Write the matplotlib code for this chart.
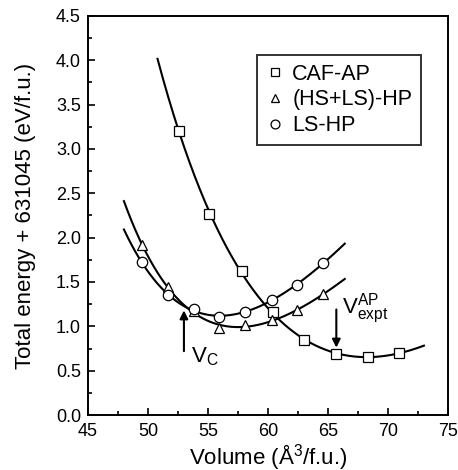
import numpy as np
import matplotlib.pyplot as plt
from matplotlib.ticker import MultipleLocator

plt.rcParams['font.family'] = ['Liberation Sans', 'DejaVu Sans']

# CAF-AP (squares)
caf_v = [52.6, 55.1, 57.8, 60.4, 63.0, 65.7, 68.3, 70.9]
caf_e = [3.20, 2.27, 1.62, 1.16, 0.85, 0.69, 0.65, 0.70]
caf_range = (50.8, 73.0)

# (HS+LS)-HP (triangles)
hsls_v = [49.5, 51.7, 53.8, 55.9, 58.1, 60.3, 62.4, 64.6]
hsls_e = [1.92, 1.44, 1.17, 0.98, 1.01, 1.07, 1.18, 1.36]
hsls_range = (48.0, 66.4)

# LS-HP (circles)
ls_v = [49.5, 51.7, 53.8, 55.9, 58.1, 60.3, 62.4, 64.6]
ls_e = [1.72, 1.35, 1.19, 1.11, 1.16, 1.30, 1.47, 1.71]
ls_range = (48.0, 66.4)


def bm_fit(v, e, vrange):
    """Birch-Murnaghan style fit: cubic in V^(-2/3)."""
    x = np.asarray(v) ** (-2.0 / 3.0)
    coef = np.polyfit(x, e, 3)
    vv = np.linspace(vrange[0], vrange[1], 300)
    return vv, np.polyval(coef, vv ** (-2.0 / 3.0))


fig = plt.figure(figsize=(4.58, 4.70), dpi=100)
ax = fig.add_axes([0.192, 0.117, 0.786, 0.849])

series = [
    (caf_v, caf_e, caf_range, 's', 'CAF-AP'),
    (hsls_v, hsls_e, hsls_range, '^', '(HS+LS)-HP'),
    (ls_v, ls_e, ls_range, 'o', 'LS-HP'),
]
for v, e, rng, mk, lab in series:
    vv, ee = bm_fit(v, e, rng)
    ax.plot(vv, ee, color='black', lw=1.5, zorder=2)
    ax.plot(v, e, linestyle='none', marker=mk, markersize=7.5,
            markerfacecolor='white', markeredgecolor='black',
            markeredgewidth=0.9, label=lab, zorder=3)

# arrows
ax.annotate('', xy=(53.0, 1.18), xytext=(53.0, 0.72),
            arrowprops=dict(arrowstyle='-|>', color='black', lw=1.5,
                            mutation_scale=12, shrinkA=0, shrinkB=0))
ax.text(53.6, 0.59, r'V$_\mathregular{C}$', fontsize=16)
ax.annotate('', xy=(65.7, 0.76), xytext=(65.7, 1.19),
            arrowprops=dict(arrowstyle='-|>', color='black', lw=1.5,
                            mutation_scale=12, shrinkA=0, shrinkB=0))
ax.text(66.2, 1.15, r'V$_\mathregular{expt}^\mathregular{AP}$', fontsize=16)

ax.set_xlim(45, 75)
ax.set_ylim(0, 4.5)
ax.xaxis.set_major_locator(MultipleLocator(5))
ax.xaxis.set_minor_locator(MultipleLocator(2.5))
ax.yaxis.set_major_locator(MultipleLocator(0.5))
ax.yaxis.set_minor_locator(MultipleLocator(0.25))
ax.yaxis.set_major_formatter(plt.FormatStrFormatter('%.1f'))
ax.tick_params(which='both', direction='in', top=False, right=False,
               labelsize=13, width=1.2)
ax.tick_params(axis='x', which='major', length=5, pad=6)
ax.tick_params(axis='y', which='major', length=5, pad=5)
ax.tick_params(which='minor', length=3)
for sp in ax.spines.values():
    sp.set_linewidth(1.4)

ax.set_xlabel(r'Volume ($\mathregular{\AA^3}$/f.u.)', fontsize=16, labelpad=1)
ax.set_ylabel('Total energy + 631045 (eV/f.u.)', fontsize=16, labelpad=14)

leg = ax.legend(loc='upper right', bbox_to_anchor=(0.925, 0.902), fontsize=15.5,
                frameon=True, fancybox=False, edgecolor='black',
                handletextpad=0.35, borderpad=0.4, labelspacing=0.22,
                handlelength=0.9, markerscale=0.85, borderaxespad=0)
leg.get_frame().set_linewidth(1.4)

fig.savefig('out.png', dpi=100)
